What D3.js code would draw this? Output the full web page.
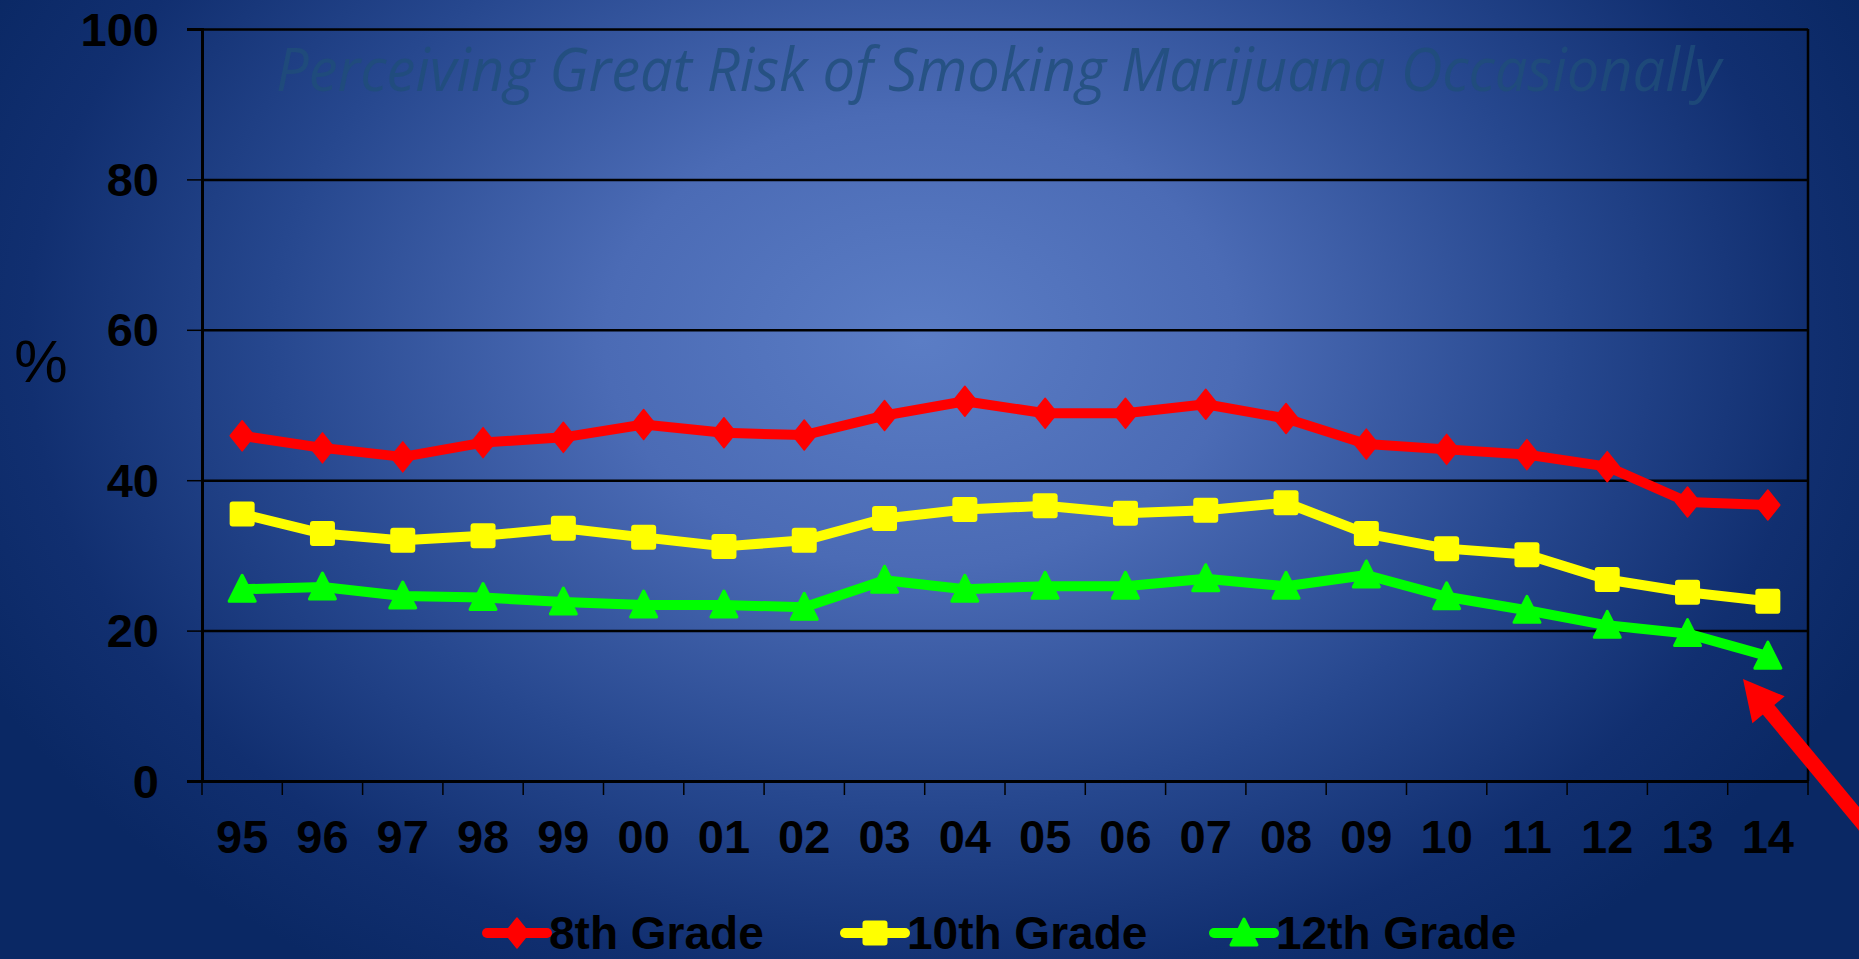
<!DOCTYPE html>
<html>
<head>
<meta charset="utf-8">
<script src="https://cdn.jsdelivr.net/npm/d3@7"></script>
<style>
  html, body { margin: 0; padding: 0; overflow: hidden; background: #0b2966; }
  svg { display: block; }
</style>
</head>
<body>
<div id="drawingArea"></div>
<script>
// chart data
var years = ["95","96","97","98","99","00","01","02","03","04","05","06","07","08","09","10","11","12","13","14"];
var grade8  = [45.9,44.3,43.1,45.0,45.7,47.4,46.3,46.0,48.6,50.5,48.9,48.9,50.1,48.2,44.8,44.1,43.4,41.8,37.1,36.7];
var grade10 = [35.5,32.9,32.0,32.6,33.6,32.4,31.2,32.0,34.9,36.1,36.6,35.6,36.0,37.0,32.9,30.9,30.1,26.8,25.1,23.9];
var grade12 = [25.5,25.8,24.6,24.4,23.8,23.4,23.4,23.1,26.7,25.5,25.9,25.9,26.9,25.9,27.4,24.5,22.7,20.7,19.6,16.6];
var yTicks = [0,20,40,60,80,100];
var seriesNames = ["8th Grade","10th Grade","12th Grade"];
var seriesColors = ["#ff0000","#ffff00","#00ff00"];
var title = "Perceiving Great Risk of Smoking Marijuana Occasionally";

var W = 1859, H = 959;
var margin = {top: 29, right: 51, bottom: 178, left: 202},
    width = W - margin.left - margin.right,
    height = H - margin.top - margin.bottom;

var svgRoot = d3.select("#drawingArea").append("svg")
    .attr("width", W)
    .attr("height", H);

// background gradient
var defs = svgRoot.append("defs");
var grad = defs.append("radialGradient")
    .attr("id", "bg")
    .attr("gradientUnits", "userSpaceOnUse")
    .attr("cx", 920).attr("cy", 340).attr("r", 1050)
    .attr("gradientTransform", "translate(920,340) scale(1,0.72) translate(-920,-340)");
[[0, "#5b7dc5"], [0.3, "#4b6bb5"], [0.62, "#26478e"], [0.85, "#112f70"], [1, "#0a2864"]].forEach(function(s) {
    grad.append("stop").attr("offset", s[0]).attr("stop-color", s[1]);
});
svgRoot.append("rect").attr("width", W).attr("height", H).attr("fill", "url(#bg)");

var svg = svgRoot.append("g")
    .attr("transform", "translate(" + margin.left + "," + margin.top + ")");

// scales
var x = d3.scaleBand().domain(years).range([0, width]).padding(0);
var y = d3.scaleLinear().domain([0, 100]).range([height, 0]);

// title, faint, inside the plot
svgRoot.append("text")
    .attr("x", 276)
    .attr("y", 91)
    .attr("textLength", 1445)
    .attr("lengthAdjust", "spacingAndGlyphs")
    .style("font-family", "'Open Sans', sans-serif")
    .style("font-style", "italic")
    .style("font-size", "60px")
    .style("fill", "#1f4e79")
    .style("fill-opacity", 0.8)
    .text(title);

// gridlines
svg.append("g")
    .attr("class", "grid")
    .call(d3.axisLeft(y).tickValues(yTicks).tickSize(-width).tickFormat(""))
    .call(function(g) { g.select(".domain").remove(); })
    .selectAll("line").attr("stroke", "#000").attr("stroke-width", 2.5);

// right border of the plot
svg.append("line")
    .attr("x1", width).attr("x2", width)
    .attr("y1", 0).attr("y2", height)
    .attr("stroke", "#000").attr("stroke-width", 2.5);

// y axis
var yAxis = svg.append("g")
    .call(d3.axisLeft(y).tickValues(yTicks).tickSize(15).tickPadding(28));
yAxis.select(".domain").attr("stroke", "#000").attr("stroke-width", 3);
yAxis.selectAll(".tick line").attr("stroke", "#000").attr("stroke-width", 1.5);
yAxis.selectAll("text")
    .attr("dy", null)
    .attr("y", 16)
    .style("font-family", "'Liberation Sans', Arial, sans-serif")
    .style("font-weight", "bold")
    .style("font-size", "47px")
    .style("fill", "#000");

// x axis labels at band centres
var xAxis = svg.append("g")
    .attr("transform", "translate(0," + height + ")")
    .call(d3.axisBottom(x).tickSize(0).tickPadding(0));
xAxis.select(".domain").attr("stroke", "#000").attr("stroke-width", 3);
xAxis.selectAll("text")
    .attr("dy", null)
    .attr("y", 72)
    .style("font-family", "'Liberation Sans', Arial, sans-serif")
    .style("font-weight", "bold")
    .style("font-size", "47px")
    .style("fill", "#000");

// x ticks on band boundaries
var bounds = years.map(function(d) { return x(d); }).concat([x(years[years.length - 1]) + x.bandwidth()]);
xAxis.selectAll(".bound")
    .data(bounds)
    .enter().append("line")
    .attr("class", "bound")
    .attr("x1", function(d) { return d; })
    .attr("x2", function(d) { return d; })
    .attr("y1", 0).attr("y2", 14)
    .attr("stroke", "#000").attr("stroke-width", 1.5);

// "%" axis label
svgRoot.append("text")
    .attr("x", 41)
    .attr("y", 382)
    .style("text-anchor", "middle")
    .style("font-family", "'Liberation Sans', Arial, sans-serif")
    .style("font-size", "60px")
    .style("fill", "#000")
    .text("%");

// marker shapes
function marker(sel, i, cx, cy) {
    if (i === 0) {
        sel.append("path")
            .attr("d", "M" + cx + "," + (cy - 15) + "L" + (cx + 12) + "," + cy + "L" + cx + "," + (cy + 15) + "L" + (cx - 12) + "," + cy + "Z")
            .attr("fill", seriesColors[i])
            .attr("stroke", seriesColors[i])
            .attr("stroke-width", 1.5)
            .attr("stroke-linejoin", "round");
    } else if (i === 1) {
        sel.append("rect")
            .attr("x", cx - 12.5).attr("y", cy - 12.5)
            .attr("width", 25).attr("height", 25)
            .attr("rx", 3)
            .attr("fill", seriesColors[i]);
    } else {
        sel.append("path")
            .attr("d", "M" + cx + "," + (cy - 14) + "L" + (cx + 13) + "," + (cy + 12) + "L" + (cx - 13) + "," + (cy + 12) + "Z")
            .attr("fill", seriesColors[i])
            .attr("stroke", seriesColors[i])
            .attr("stroke-width", 3)
            .attr("stroke-linejoin", "round");
    }
}

var series = [grade8, grade10, grade12];
var valueline = d3.line()
    .x(function(d, i) { return x(years[i]) + x.bandwidth() / 2; })
    .y(function(d) { return y(d); });

series.forEach(function(data, i) {
    var g = svg.append("g");
    g.append("path")
        .datum(data)
        .attr("d", valueline)
        .attr("fill", "none")
        .attr("stroke", seriesColors[i])
        .attr("stroke-width", 10)
        .attr("stroke-linejoin", "round");
    data.forEach(function(d, j) {
        marker(g, i, x(years[j]) + x.bandwidth() / 2, y(d));
    });
});

// legend (nudged up so the text stays inside the page)
var legendX = [487, 845, 1214];
seriesNames.forEach(function(name, i) {
    var g = svgRoot.append("g").attr("transform", "translate(" + legendX[i] + ",933)");
    g.append("line")
        .attr("x1", 0).attr("x2", 60)
        .attr("y1", 0).attr("y2", 0)
        .attr("stroke", seriesColors[i])
        .attr("stroke-width", 10)
        .attr("stroke-linecap", "round");
    marker(g, i, 30, 0);
    g.append("text")
        .attr("x", 62)
        .attr("y", 16)
        .style("font-family", "'Liberation Sans', Arial, sans-serif")
        .style("font-weight", "bold")
        .style("font-size", "46px")
        .style("fill", "#000")
        .text(name);
});

// red arrow pointing at the last 12th grade value
var tip = [1743, 679], tail = [1885, 850];
var dx = tip[0] - tail[0], dy = tip[1] - tail[1], len = Math.sqrt(dx * dx + dy * dy);
var ux = dx / len, uy = dy / len;
var base = [tip[0] - ux * 40, tip[1] - uy * 40];
svgRoot.append("line")
    .attr("x1", tail[0]).attr("y1", tail[1])
    .attr("x2", base[0] + ux * 4).attr("y2", base[1] + uy * 4)
    .attr("stroke", "#ff0000").attr("stroke-width", 15);
svgRoot.append("path")
    .attr("d", "M" + tip[0] + "," + tip[1] +
        "L" + (base[0] - uy * 21) + "," + (base[1] + ux * 21) +
        "L" + (base[0] + uy * 21) + "," + (base[1] - ux * 21) + "Z")
    .attr("fill", "#ff0000");
</script>
</body>
</html>
